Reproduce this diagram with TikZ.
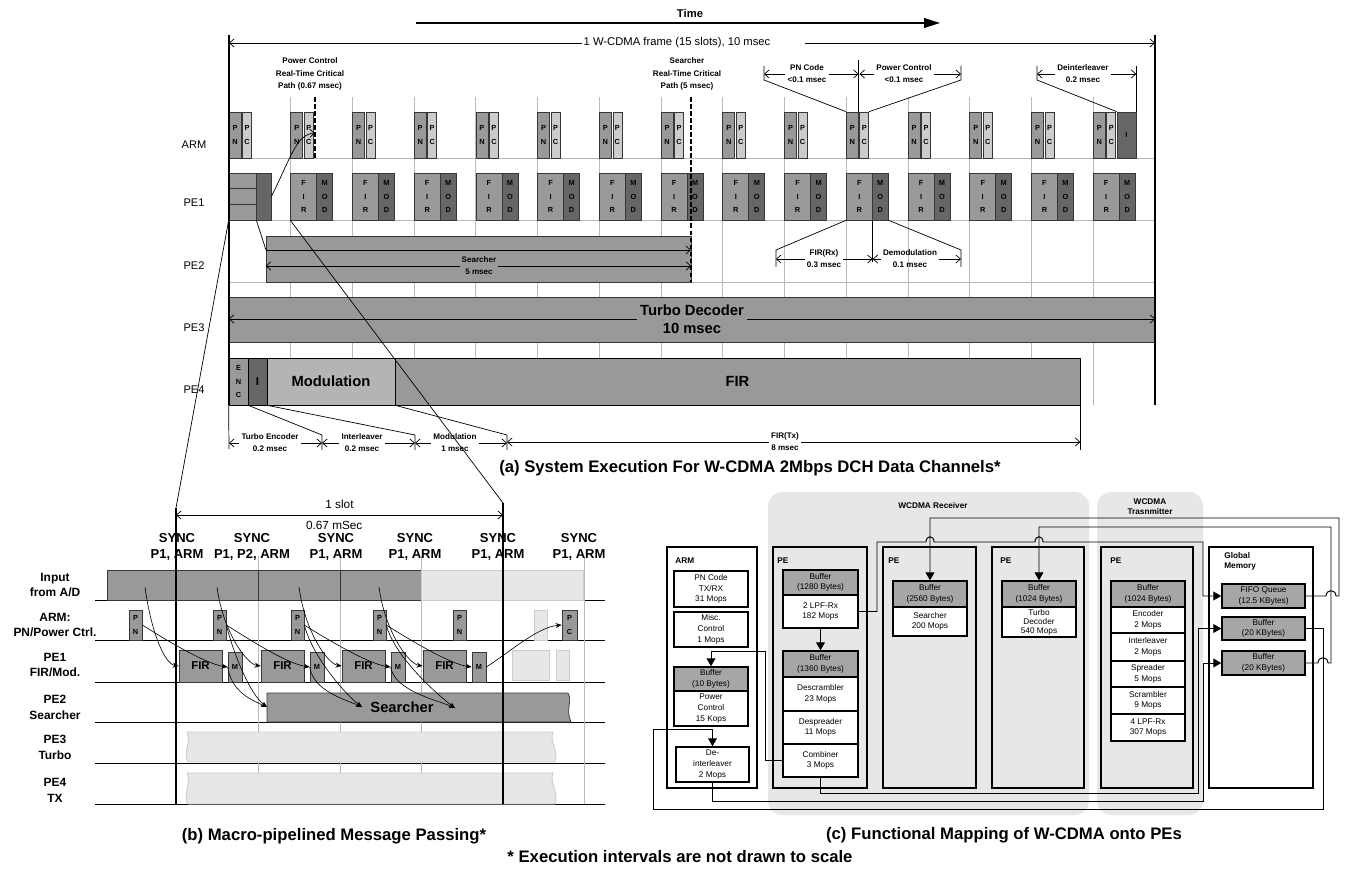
\documentclass[tikz,border=0pt]{standalone}
\usepackage{fontspec}
\setmainfont{Liberation Sans}
\usetikzlibrary{arrows.meta, positioning, calc}
\definecolor{gris}{RGB}{153,153,153}
\definecolor{grisclair}{RGB}{204,204,204}
\definecolor{grisfonce}{RGB}{102,102,102}
\definecolor{grismoy}{RGB}{180,180,180}
\definecolor{fond}{RGB}{231,231,231}
\definecolor{grille}{RGB}{185,185,185}
\definecolor{bord}{RGB}{55,55,55}
\definecolor{entete}{RGB}{166,166,166}

% boite rectangulaire : style, nom, x1, y1, x2, y2, texte
\newcommand{\boite}[7]{\node[#1, minimum width={((#5)-(#3))*0.02cm},
  minimum height={((#6)-(#4))*0.02cm}] (#2) at ({((#3)+(#5))/2},{((#4)+(#6))/2}) {#7};}

\begin{document}
\begin{tikzpicture}[x=0.02cm, y=-0.02cm, >={Straight Barb[length=2.6pt,width=4.6pt]},
    bx/.style={draw=bord, line width=0.4pt, inner sep=0pt, align=center},
    lettre/.style={font=\fontsize{4.2}{7.6}\selectfont\bfseries},
    note/.style={font=\fontsize{4.6}{6.9}\selectfont\bfseries, align=center, inner sep=1pt},
    rang/.style={font=\fontsize{6.3}{7.5}\selectfont},
    rangb/.style={font=\fontsize{6.8}{9}\selectfont\bfseries, align=center},
    gros/.style={font=\fontsize{8.4}{10.5}\selectfont\bfseries, align=center},
    sync/.style={font=\fontsize{7.4}{9.6}\selectfont\bfseries, align=center},
    titre/.style={font=\fontsize{9.5}{11}\selectfont\bfseries},
    fine/.style={draw=grille, line width=0.5pt},
    trait/.style={line width=0.4pt},
    tiret/.style={line width=1pt, dash pattern=on 2.6pt off 1.4pt},
    pointe/.style={-{Stealth[length=3.4pt,width=2.8pt]}, line width=0.35pt},
    fleche/.style={-{Triangle[length=4.5pt,width=5pt]}, line width=0.55pt},
    cbox/.style={draw, line width=0.8pt, inner sep=0pt, align=center, fill=white,
      font=\fontsize{4.7}{6.1}\selectfont},
    chead/.style={cbox, fill=entete},
    cpe/.style={draw, line width=0.8pt, inner sep=0pt},
    clbl/.style={font=\fontsize{4.7}{5.8}\selectfont\bfseries, align=left, inner sep=0pt}]

\useasboundingbox (0,0) rectangle (1346,871);

% ===== (a) Execution systeme =====
% --- Axe du temps ---
\node[font=\fontsize{6.4}{7}\selectfont\bfseries] (temps) at (690,13) {Time};
\coordinate (t0) at (416,23);
\coordinate (t1) at (940,23);
\draw[-{Triangle[length=9pt,width=5.5pt]}, line width=0.8pt] (t0) -- (t1);

% --- Grille des 15 slots ---
\foreach \i in {1,...,14} {
  \pgfmathsetmacro{\xs}{229+61.73*\i}
  \draw[fine] (\xs,97) -- (\xs,405);
}
\foreach \yy in {158,220,282}
  \draw[fine] (229,\yy) -- (1155,\yy);

% --- Processeurs ---
\node[rang] (larm) at (194,145) {ARM};
\node[rang] (lpe1) at (194,203) {PE1};
\node[rang] (lpe2) at (194,266) {PE2};
\node[rang] (lpe3) at (194,328) {PE3};
\node[rang] (lpe4) at (194,390) {PE4};

% --- ARM : PN / PC ---
\foreach \i in {0,...,14} {
  \pgfmathsetmacro{\xs}{229+61.73*\i}
  \boite{bx, fill=gris, lettre}{pn\i}{\xs}{112}{\xs+12}{158}{P\\N}
  \boite{bx, fill=grisclair, lettre}{pc\i}{\xs+13.5}{112}{\xs+22.5}{158}{P\\C}
}
\boite{bx, fill=grisfonce, lettre}{inter}{1117}{112}{1136}{158}{I}

% --- PE1 : FIR / MOD ---
\boite{bx, fill=gris}{g1}{229}{173}{256}{188}{}
\boite{bx, fill=gris}{g2}{229}{188}{256}{204}{}
\boite{bx, fill=gris}{g3}{229}{204}{256}{220}{}
\boite{bx, fill=grisfonce}{g4}{256}{173}{271}{220}{}
\foreach \i in {1,...,14} {
  \pgfmathsetmacro{\xs}{229+61.73*\i}
  \boite{bx, fill=gris, lettre}{fir\i}{\xs}{173}{\xs+26}{220}{F\\I\\R}
  \boite{bx, fill=grisfonce, lettre}{mod\i}{\xs+26}{173}{\xs+42}{220}{M\\O\\D}
}

% --- PE2 : Searcher ---
\boite{bx, fill=gris}{srch}{266}{236}{691}{282}{}
\coordinate (s1a) at (266,250);
\coordinate (s1b) at (691,250);
\draw[->, trait] (s1a) -- (s1b);
\node[note] (srchtxt) at (479,266) {Searcher\\5 msec};
\draw[->, trait] (srchtxt.west) -- (srchtxt.west -| srch.west);
\draw[->, trait] (srchtxt.east) -- (srchtxt.east -| srch.east);

% --- PE3 : Turbo Decoder ---
\boite{bx, fill=gris}{turbo}{229}{297}{1155}{342}{}
\node[gros, inner sep=1.5pt] (turbotxt) at (692,319) {Turbo Decoder\\10 msec};
\draw[->, trait] (turbotxt.west) -- (turbotxt.west -| turbo.west);
\draw[->, trait] (turbotxt.east) -- (turbotxt.east -| turbo.east);

% --- PE4 : ENC / I / Modulation / FIR ---
\boite{bx, draw=black, fill=gris, lettre}{enc}{229}{358}{248}{405}{E\\N\\C}
\boite{bx, draw=black, fill=grisfonce, font=\fontsize{6.5}{7}\selectfont\bfseries}{il}{248}{358}{267}{405}{I}
\boite{bx, draw=black, fill=grismoy, gros}{modu}{267}{358}{395}{405}{Modulation}
\boite{bx, draw=black, fill=gris, gros}{firtx}{395}{358}{1080}{405}{FIR}

% --- Cadre de la trame ---
\coordinate (fg) at (229,35);
\coordinate (fd) at (1155,35);
\draw[line width=1.2pt] (fg) -- (229,405);
\draw[line width=1.2pt] (fd) -- (1155,405);
\node[font=\fontsize{6.4}{7}\selectfont, inner sep=1pt] (trame) at (677,43) {1 W-CDMA frame (15 slots), 10 msec};
\draw[->, trait] (trame.west) -- (trame.west -| fg);
\draw[->, trait] ($(trame.east)+(33,0)$) -- (trame.east -| fd);

% --- Chemins critiques ---
\node[note] (ncpc) at (310,74) {Power Control\\Real-Time Critical\\Path (0.67 msec)};
\draw[tiret] (315,97) -- (315,158);
\coordinate (pcd) at (315,133);
\draw[->, trait] (g4.east) .. controls (290,160) and (296,134) .. (pcd);
\node[note] (ncsr) at (687,74) {Searcher\\Real-Time Critical\\Path (5 msec)};
\draw[tiret] (691,97) -- (691,282);

% --- Durees ARM ---
\node[note] (npn) at (807,74) {PN Code\\<0.1 msec};
\node[note] (npc) at (904,74) {Power Control\\<0.1 msec};
\node[note] (ndi) at (1083,74) {Deinterleaver\\0.2 msec};
\coordinate (a1) at (764,80);
\coordinate (a2) at (961,80);
\coordinate (a3) at (1037,80);
\draw[trait] (pn10.north west) -- (a1) -- ++(0,-14);
\draw[trait] (pc10.north east) -- (a2) -- ++(0,-14);
\draw[trait] (inter.north west) -- (a3) -- ++(0,-14);
\draw[trait] (pn10.north east) -- ++(0,-52);
\draw[trait] (inter.north east) -- ++(0,-46);
\draw[->, trait] (npn.west) -- (npn.west -| a1);
\draw[->, trait] (npn.east) -- (npn.east -| pn10.north east);
\draw[->, trait] (npc.west) -- (npc.west -| pc10.north west);
\draw[->, trait] (npc.east) -- (npc.east -| a2);
\draw[->, trait] (ndi.west) -- (ndi.west -| a3);
\draw[->, trait] (ndi.east) -- (ndi.east -| inter.north east);

% --- Durees PE1 ---
\node[note] (nfir) at (824,259) {FIR(Rx)\\0.3 msec};
\node[note] (ndem) at (910,259) {Demodulation\\0.1 msec};
\coordinate (a4) at (776,250);
\coordinate (a5) at (961,250);
\draw[trait] (fir10.south west) -- (a4) -- ++(0,17);
\draw[trait] (mod10.south east) -- (a5) -- ++(0,17);
\draw[trait] (fir10.south east) -- ++(0,42);
\draw[->, trait] (nfir.west) -- (nfir.west -| a4);
\draw[->, trait] (nfir.east) -- (nfir.east -| fir10.south east);
\draw[->, trait] (ndem.west) -- (ndem.west -| fir10.south east);
\draw[->, trait] (ndem.east) -- (ndem.east -| a5);

% --- Durees PE4 ---
\coordinate (k0) at (229,449);
\coordinate (k1) at (322,435);
\coordinate (k2) at (415,435);
\coordinate (k3) at (507,435);
\draw[trait] (enc.south west) -- (k0);
\draw[trait] (enc.south east) -- (k1) -- ++(0,15);
\draw[trait] (il.south east) -- (k2) -- ++(0,15);
\draw[trait] (modu.south east) -- (k3) -- ++(0,15);
\draw[trait] (firtx.south east) -- ++(0,45);
\node[note] (nte) at (270,443) {Turbo Encoder\\0.2 msec};
\node[note] (nil) at (362,443) {Interleaver\\0.2 msec};
\node[note] (nmo) at (455,443) {Modulation\\1 msec};
\node[note] (nft) at (785,442) {FIR(Tx)\\8 msec};
\draw[->, trait] (nte.west) -- (nte.west -| k0);
\draw[->, trait] (nte.east) -- (nte.east -| k1);
\draw[->, trait] (nil.west) -- (nil.west -| k1);
\draw[->, trait] (nil.east) -- (nil.east -| k2);
\draw[->, trait] (nmo.west) -- (nmo.west -| k2);
\draw[->, trait] (nmo.east) -- (nmo.east -| k3);
\draw[->, trait] (nft.west) -- (nft.west -| k3);
\draw[->, trait] (nft.east) -- (nft.east -| firtx.south east);

% --- Agrandissement vers (b) ---
\coordinate (sl0) at (176,508);
\coordinate (sl1) at (503,503);
\draw[trait] (g3.south west) -- (sl0);
\draw[trait] (fir1.south west) -- (sl1);
\draw[trait] (g3.south east) -- (s1a);

\node[titre] (tita) at (750,468) {(a) System Execution For W-CDMA 2Mbps DCH Data Channels*};

% ===== (b) Passage de messages =====
\node[rangb] (bin) at (55,585) {Input\\from A/D};
\node[rangb] (barm) at (55,625) {ARM:\\PN/Power Ctrl.};
\node[rangb] (bpe1) at (55,665) {PE1\\FIR/Mod.};
\node[rangb] (bpe2) at (55,707) {PE2\\Searcher};
\node[rangb] (bpe3) at (55,747) {PE3\\Turbo};
\node[rangb] (bpe4) at (55,790) {PE4\\TX};
\foreach \yy in {600,640,682,722,763,804}
  \draw[line width=0.5pt] (95,\yy) -- (605,\yy);
\foreach \xs in {258,340,421,584}
  \draw[fine] (\xs,556) -- (\xs,804);

% --- Synchronisations ---
\foreach \xs/\txt [count=\k] in {177/{P1, ARM}, 252/{P1, P2, ARM}, 336/{P1, ARM}, 415/{P1, ARM}, 498/{P1, ARM}, 579/{P1, ARM}}
  \node[sync] (sync\k) at (\xs,547) {SYNC\\\txt};
\coordinate (u0) at (176,515);
\coordinate (u1) at (503,515);
\draw[<->, trait] (u0) -- (u1)
  node[midway, above=0pt, font=\fontsize{6.7}{7}\selectfont] (slot) {1 slot}
  node[midway, below=0pt, font=\fontsize{6.7}{7}\selectfont, xshift=-3pt] (slotms) {0.67 mSec};

% --- Entree A/D ---
\boite{bx, fill=gris}{binp}{107}{570}{421}{600}{}
\boite{bx, draw=grisclair, fill=fond}{binq}{421}{570}{583}{600}{}
\draw[bord, line width=0.4pt] (258,570) -- (258,600) (340,570) -- (340,600);

% --- ARM ---
\foreach \xs [count=\k from 0] in {129,213,291,373,453} {
  \boite{bx, fill=gris, lettre}{bpn\k}{\xs}{610}{\xs+13}{640}{P\\N}
}
\boite{bx, draw=grisclair, fill=fond}{bpcg}{534}{610}{547}{640}{}
\boite{bx, fill=gris, lettre}{bpc}{562}{610}{577}{640}{P\\C}

% --- PE1 ---
\foreach \xs/\xm [count=\k from 0] in {179/228, 261/310, 342/391, 423/472} {
  \boite{bx, fill=gris, font=\fontsize{6.5}{7}\selectfont\bfseries}{bfir\k}{\xs}{650}{\xs+43}{682}{FIR}
  \boite{bx, fill=gris, lettre}{bm\k}{\xm}{652}{\xm+14}{682}{M}
}
\boite{bx, draw=grisclair, fill=fond}{bfg1}{512}{650}{549}{680}{}
\boite{bx, draw=grisclair, fill=fond}{bfg2}{556}{650}{569}{680}{}

% --- PE2, PE3, PE4 ---
\draw[bord, fill=gris, line width=0.4pt] (267,693) -- (568,693)
  .. controls (573,701) and (565,709) .. (571,722) -- (267,722) -- cycle;
\node[font=\fontsize{8.4}{9}\selectfont\bfseries] (bsrch) at (402,707) {Searcher};
\foreach \ya/\yb in {732/762, 773/804}
  \draw[draw=grisclair, fill=fond, line width=0.5pt] (187,\ya) -- (553,\ya)
    .. controls (549,\ya+10) and (559,\yb-12) .. (555,\yb) -- (188,\yb)
    .. controls (182,\yb-10) and (192,\ya+12) .. (187,\ya) -- cycle;

% --- Bornes du slot ---
\coordinate (sl0b) at (176,804);
\coordinate (sl1b) at (503,804);
\draw[line width=0.6pt] (sl0) -- (sl0b);
\draw[line width=0.6pt] (sl1) -- (sl1b);

% --- Messages ---
\foreach \xs [count=\k from 0] in {145,217,299,379}
  \coordinate (e\k) at (\xs,587);
\foreach \k in {0,...,3} {
  \draw[pointe] (e\k) .. controls +(6,45) and +(-14,-2) .. (bfir\k.west);
  \draw[pointe] (bpn\k.east) .. controls +(22,14) and +(-22,-3) .. (bm\k.west);
}
\coordinate (cs0) at (267,707);
\coordinate (cs1) at (362,707);
\coordinate (cs2) at (455,708);
\foreach \k/\j in {0/1,1/2,2/3} {
  \draw[pointe] (bm\k.west) .. controls +(4,24) and +(-18,-8) .. (cs\k);
  \draw[pointe] (bpn\j.east) .. controls +(8,32) and +(-16,-12) .. (cs\k);
}
\draw[pointe] (bm3.east) .. controls +(22,-14) and +(-24,2) .. (bpc.west);

\node[titre] (titb) at (334,836) {(b) Macro-pipelined Message Passing*};

% ===== (c) Placement fonctionnel =====
\fill[fond, rounded corners=8pt] (768,492) rectangle (1089,815);
\fill[fond, rounded corners=8pt] (1097,492) rectangle (1203,815);
\node[clbl, align=center] (trx) at (933,506) {WCDMA Receiver};
\node[clbl, align=center] (ttx) at (1150,507) {WCDMA\\Trasnmitter};

% --- Blocs ---
\boite{cpe, fill=white}{carm}{667}{547}{757}{788}{}
\boite{cpe}{cpe1}{773}{547}{867}{788}{}
\boite{cpe}{cpe2}{883}{547}{976}{788}{}
\boite{cpe}{cpe3}{992}{547}{1084}{788}{}
\boite{cpe}{cpe4}{1101}{547}{1193}{788}{}
\boite{cpe, fill=white}{cglob}{1209}{547}{1313}{788}{}
\node[clbl, anchor=west] (carml) at (675,561) {ARM};
\node[clbl, anchor=west] (cpe1l) at (777,561) {PE};
\node[clbl, anchor=west] (cpe2l) at (888,561) {PE};
\node[clbl, anchor=west] (cpe3l) at (1000,561) {PE};
\node[clbl, anchor=west] (cpe4l) at (1110,561) {PE};
\node[clbl, anchor=west] (cglobl) at (1224,561) {Global\\Memory};

\boite{cbox}{cpn}{674}{571}{748}{607}{PN Code\\TX/RX\\31 Mops}
\boite{cbox}{cmisc}{674}{612}{748}{647}{Misc.\\Control\\1 Mops}
\boite{chead}{cb10}{674}{667}{748}{691}{Buffer\\(10 Bytes)}
\boite{cbox}{cpow}{674}{691}{748}{726}{Power\\Control\\15 Kops}
\boite{cbox}{cdei}{676}{747}{749}{782}{De-\\interleaver\\2 Mops}

\boite{chead}{cb1280}{783}{570}{858}{595}{Buffer\\(1280 Bytes)}
\boite{cbox}{clpf2}{783}{595}{858}{628}{2 LPF-Rx\\182 Mops}
\boite{chead}{cb1360}{783}{651}{858}{677}{Buffer\\(1360 Bytes)}
\boite{cbox}{cdesc}{783}{677}{858}{711}{Descrambler\\23 Mops}
\boite{cbox}{cdesp}{783}{711}{858}{744}{Despreader\\11 Mops}
\boite{cbox}{ccomb}{783}{744}{858}{777}{Combiner\\3 Mops}

\boite{chead}{cb2560}{893}{581}{967}{607}{Buffer\\(2560 Bytes)}
\boite{cbox}{csrch}{893}{607}{967}{636}{Searcher\\200 Mops}

\boite{chead}{cb1024a}{1002}{581}{1076}{607}{Buffer\\(1024 Bytes)}
\boite{cbox, font=\fontsize{4.7}{5.2}\selectfont}{cturbo}{1002}{607}{1076}{637}{Turbo\\Decoder\\540 Mops}

\boite{chead}{cb1024b}{1111}{581}{1185}{607}{Buffer\\(1024 Bytes)}
\boite{cbox}{cenc}{1111}{607}{1185}{633}{Encoder\\2 Mops}
\boite{cbox}{cint}{1111}{633}{1185}{661}{Interleaver\\2 Mops}
\boite{cbox}{cspr}{1111}{661}{1185}{687}{Spreader\\5 Mops}
\boite{cbox}{cscr}{1111}{687}{1185}{714}{Scrambler\\9 Mops}
\boite{cbox}{clpf4}{1111}{714}{1185}{741}{4 LPF-Rx\\307 Mops}

\boite{chead}{cfifo}{1222}{584}{1305}{608}{FIFO Queue\\(12.5 KBytes)}
\boite{chead}{cgb1}{1222}{617}{1305}{640}{Buffer\\(20 KBytes)}
\boite{chead}{cgb2}{1222}{651}{1305}{675}{Buffer\\(20 KBytes)}

% --- Liaisons ---
\draw[fleche] (clpf2.south) -- (cb1360.north);
\draw[fleche] (clpf2.east) -| (877,542) -- (926,542)
  .. controls (926,535) and (934,535) .. (934,542) -- (1035,542)
  .. controls (1035,535) and (1043,535) .. (1043,542) -- (1203,542) |- (cfifo.west);
\draw[fleche] (cfifo.east) -- (1326,596)
  .. controls (1326,589) and (1336,589) .. (1336,596) -- (1339,596) -- (1339,518) -| (cb2560.north);
\draw[fleche] (cgb2.east) -- (1318,663)
  .. controls (1318,656) and (1328,656) .. (1328,663) -- (1331,663) -- (1331,527) -| (cb1024a.north);
\draw[fleche] (cgb1.east) -| (1323,809) -| (653,729) -| (cdei.north);
\draw[fleche] (cdei.south) |- (1203,801) |- (cgb2.west);
\draw[fleche] (ccomb.south) |- (1198,793) |- (cgb1.west);
\draw[fleche] (ccomb.west) -| (765,651) -| (cb10.north);

\node[titre] (titc) at (1004,835) {(c) Functional Mapping of W-CDMA onto PEs};
\node[titre] (renvoi) at (680,857) {* Execution intervals are not drawn to scale};
\end{tikzpicture}
\end{document}
